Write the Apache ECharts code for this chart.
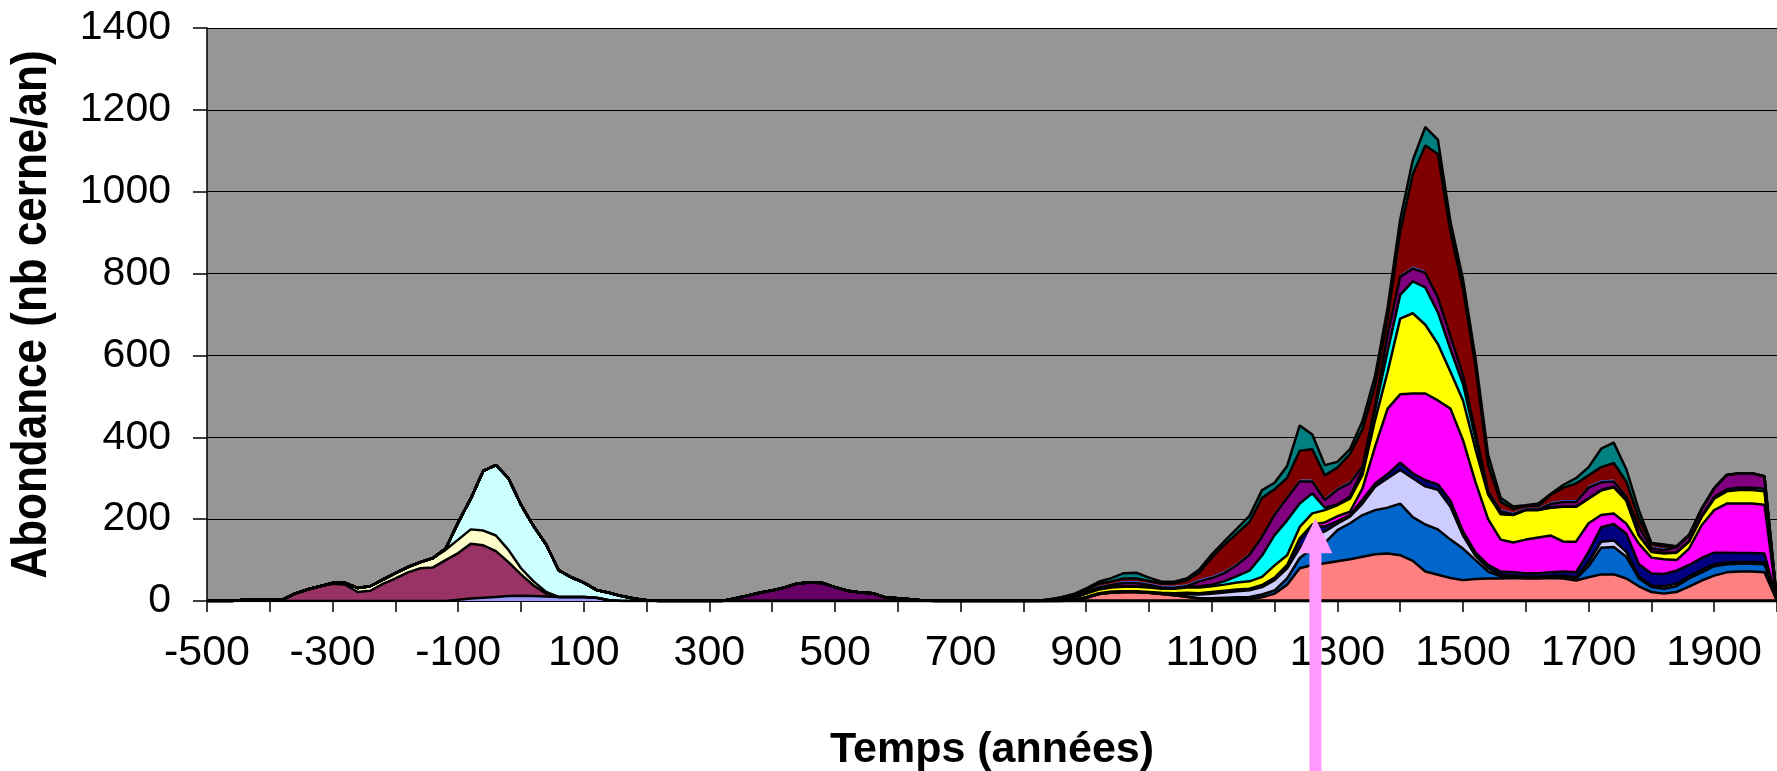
<!DOCTYPE html>
<html>
<head>
<meta charset="utf-8">
<script src="https://cdn.jsdelivr.net/npm/echarts@6/dist/echarts.min.js"></script>
<style>
html,body{margin:0;padding:0;background:#fff;}
#c{width:1777px;height:771px;}
</style>
</head>
<body>
<div id="c"></div>
<script>
// ---- axes ----
const xMin = -500, xMax = 2000, xStep = 20;
const yTicks = [0, 200, 400, 600, 800, 1000, 1200, 1400];
const xLabelYears = [-500, -300, -100, 100, 300, 500, 700, 900, 1100, 1300, 1500, 1700, 1900];
const xTitle = 'Temps (années)';
const yTitle = 'Abondance (nb cerne/an)';

// ---- ancient period series (step 20 years, from -460) ----
const startAncient = -460;
const pervenche = [0,0,0,0,0,0,0,0,0,0,0,0,0,0,0,0,0,0,3,6,8,10,12,13,12,11,10,10,10,8,2,0,0,0,0];
const framboise = [0,3,3,3,3,18,28,36,42,40,22,25,42,55,70,80,82,100,114,134,128,112,83,52,26,7,0,0,0,0,0,0,0,0,0];
const jauneClair = [0,0,0,0,0,0,0,0,2,4,10,11,10,13,13,15,23,25,33,35,36,38,30,15,10,4,0,0,0,0,0,0,0,0,0];
const cyanClair = [0,0,0,0,0,0,0,0,0,0,0,0,0,0,0,0,0,3,42,75,146,172,175,155,135,116,65,48,35,19,18,12,6,2,0];

// ---- early medieval series (step 20 years, from 320) ----
const startPrune = 320;
const prune = [0,6,13,20,26,33,43,45,44,34,25,21,19,9,7,4,1,0];

// ---- main series (step 20 years, from 840 to 2000) ----
const startMain = 840;
const saumon = [0,0,2,8,17,21,22,22,20,17,14,10,6,5,5,5,5,9,18,40,80,88,92,97,102,108,114,116,112,98,72,64,56,51,54,55,55,56,55,55,56,55,50,58,65,65,55,36,22,18,22,35,50,62,70,72,72,70,0];
const bleu = [0,0,0,0,0,0,0,0,0,0,0,1,1,2,3,4,5,7,8,15,25,40,50,76,88,102,108,112,126,107,115,111,94,77,46,17,5,3,3,3,3,3,4,27,65,67,53,19,12,12,14,20,20,23,20,19,19,20,0];
const lavande = [0,0,0,0,0,0,0,0,0,1,3,6,9,11,13,15,16,18,25,25,25,30,28,16,16,28,57,72,82,95,93,97,80,32,10,8,4,3,2,2,2,4,4,10,15,16,12,5,4,6,6,5,6,5,4,4,4,4,0];
const marine = [0,0,0,0,0,0,0,0,0,0,0,1,1,2,2,2,2,2,3,5,20,25,12,6,4,10,8,10,18,12,15,13,15,10,8,8,8,8,8,8,9,10,12,25,35,40,45,30,29,30,32,28,29,28,24,22,22,22,0];
const magenta = [0,0,1,2,2,2,2,2,2,2,2,2,2,2,2,2,2,3,3,3,3,4,10,12,8,27,90,160,167,195,212,205,225,223,172,112,78,73,82,87,90,73,75,70,30,26,24,50,39,36,26,40,80,104,120,121,121,119,0];
const jaune = [0,2,5,8,9,10,11,11,11,10,11,13,14,14,15,17,18,20,30,24,28,27,30,27,32,33,65,90,185,196,168,138,90,97,80,60,62,67,72,67,68,85,85,60,60,64,56,20,14,14,18,17,20,28,30,33,33,33,0];
const cyan = [0,1,1,1,1,1,1,1,1,1,1,2,3,4,8,16,26,52,74,85,57,49,6,2,5,12,25,50,58,78,91,77,55,40,25,5,1,1,1,1,1,1,1,1,1,1,2,1,1,1,1,1,2,4,5,6,6,6,0];
const violet = [1,2,1,2,4,5,8,8,5,2,1,1,12,16,20,27,39,46,50,55,54,29,19,36,33,9,10,42,44,31,36,37,32,22,17,3,6,1,0,0,8,11,11,26,19,13,8,21,8,7,13,14,17,22,35,35,35,31,0];
// thin blue band (from 840 to 1820)
const filetBleu = [2,2,3,3,4,4,5,5,5,5,5,5,5,5,5,5,5,5,5,5,5,5,5,5,5,5,5,5,5,5,5,5,5,5,5,5,5,5,5,5,5,5,5,5,5,5,5,5,5,5];
const bordeaux = [0,1,1,3,5,5,6,6,5,5,6,9,16,45,64,72,75,90,57,44,70,74,55,49,66,86,45,35,105,225,306,345,250,205,155,59,18,8,4,4,18,30,40,25,32,40,32,15,6,5,1,1,1,0,0,0,0,0,0];
const sarcelle = [1,1,3,4,5,8,13,14,8,4,4,5,8,8,9,12,15,19,16,29,62,36,25,14,12,20,23,25,30,35,45,35,25,24,20,25,10,6,2,6,2,7,13,20,45,50,30,20,2,4,1,1,1,0,0,0,0,0,0];

// ---- annotation (pink arrow) ----
const arrowYear = 1265, arrowValue = 202;

// ---- common year grid (category axis) ----
const years = [];
for (let y = xMin; y <= xMax; y += xStep) years.push(y);
function onGrid(start, vals) {
  return years.map(y => {
    const i = (y - start) / xStep;
    return (i >= 0 && i < vals.length) ? vals[i] : 0;
  });
}

const seriesDefs = [
  {name: 'pervenche', start: startAncient, vals: pervenche, color: '#9999FF'},
  {name: 'framboise', start: startAncient, vals: framboise, color: '#993366'},
  {name: 'jauneClair', start: startAncient, vals: jauneClair, color: '#FFFFCC'},
  {name: 'cyanClair', start: startAncient, vals: cyanClair, color: '#CCFFFF'},
  {name: 'prune', start: startPrune, vals: prune, color: '#660066'},
  {name: 'saumon', start: startMain, vals: saumon, color: '#FF8080'},
  {name: 'bleu', start: startMain, vals: bleu, color: '#0066CC'},
  {name: 'lavande', start: startMain, vals: lavande, color: '#CCCCFF'},
  {name: 'marine', start: startMain, vals: marine, color: '#000080'},
  {name: 'magenta', start: startMain, vals: magenta, color: '#FF00FF'},
  {name: 'jaune', start: startMain, vals: jaune, color: '#FFFF00'},
  {name: 'cyan', start: startMain, vals: cyan, color: '#00FFFF'},
  {name: 'violet', start: startMain, vals: violet, color: '#800080'},
  {name: 'filetBleu', start: startMain, vals: filetBleu, color: '#3366FF', noLine: true},
  {name: 'bordeaux', start: startMain, vals: bordeaux, color: '#800000'},
  {name: 'sarcelle', start: startMain, vals: sarcelle, color: '#008080'}
];

const series = seriesDefs.map(d => ({
  name: d.name,
  type: 'line',
  stack: 'total',
  stackStrategy: 'all',
  xAxisIndex: 0,
  data: onGrid(d.start, d.vals),
  symbol: 'none',
  showSymbol: false,
  sampling: 'none',
  lineStyle: {color: '#000000', width: d.noLine ? 0 : 2.5},
  areaStyle: {color: d.color, opacity: 1},
  itemStyle: {color: d.color},
  emphasis: {disabled: true},
  animation: false
}));

const chart = echarts.init(document.getElementById('c'), null, {renderer: 'canvas'});
const labelFont = 'Liberation Sans, Arial, sans-serif';
chart.setOption({
  animation: false,
  backgroundColor: '#ffffff',
  grid: {left: 207, top: 28, right: 0, bottom: 170, containLabel: false, outerBoundsMode: 'none',
    show: true, backgroundColor: '#969696', borderWidth: 0},
  xAxis: [{
    type: 'category', data: years.map(String), boundaryGap: false,
    name: xTitle, nameLocation: 'middle', nameGap: 128,
    nameTextStyle: {fontFamily: labelFont, fontWeight: 'bold', fontSize: 43, color: '#000'},
    axisLine: {show: true, onZero: false, lineStyle: {color: '#000', width: 1.5}},
    axisTick: {show: true, length: 11, inside: false, lineStyle: {color: '#000', width: 1.5},
      interval: (i, v) => (Number(v) - xMin) % 100 === 0},
    axisLabel: {
      color: '#000', fontFamily: labelFont, fontSize: 43, margin: 31,
      interval: (i, v) => xLabelYears.indexOf(Number(v)) >= 0
    },
    splitLine: {show: false}
  }, {
    // hidden continuous twin of the year axis, used to anchor the annotation
    type: 'value', min: xMin, max: xMax, show: false
  }],
  yAxis: {
    type: 'value', min: 0, max: 1400, interval: 200,
    axisLine: {show: true, onZero: false, lineStyle: {color: '#000', width: 1.5}},
    axisTick: {show: true, length: 14, inside: false, lineStyle: {color: '#000', width: 1.5}},
    axisLabel: {
      color: '#000', fontFamily: labelFont, fontSize: 41, margin: 36,
      formatter: v => yTicks.indexOf(v) >= 0 ? String(v) : ''
    },
    splitLine: {show: true, lineStyle: {color: '#000', width: 1.2}}
  },
  series: series
});

const gridRect = chart.getModel().getComponent('grid').coordinateSystem.getRect();
const tip = chart.convertToPixel({xAxisIndex: 1, yAxisIndex: 0}, [arrowYear, arrowValue]);
const headH = 35, headHalf = 17, shaftHalf = 6, bottomY = 771;
chart.setOption({
  graphic: [{
    type: 'text', silent: true, z: 50,
    x: 32, y: gridRect.y + gridRect.height / 2,
    rotation: Math.PI / 2, scaleX: 0.88, scaleY: 1.0,
    style: {text: yTitle, fontFamily: labelFont, fontWeight: 'bold', fontSize: 50, fill: '#000', align: 'center', verticalAlign: 'middle'}
  }, {
    type: 'polygon', z: 100, silent: true,
    shape: {points: [
      [tip[0], tip[1]],
      [tip[0] + headHalf, tip[1] + headH],
      [tip[0] + shaftHalf, tip[1] + headH],
      [tip[0] + shaftHalf, bottomY],
      [tip[0] - shaftHalf, bottomY],
      [tip[0] - shaftHalf, tip[1] + headH],
      [tip[0] - headHalf, tip[1] + headH]
    ]},
    style: {fill: '#FF99FF', stroke: null}
  }]
});
</script>
</body>
</html>
